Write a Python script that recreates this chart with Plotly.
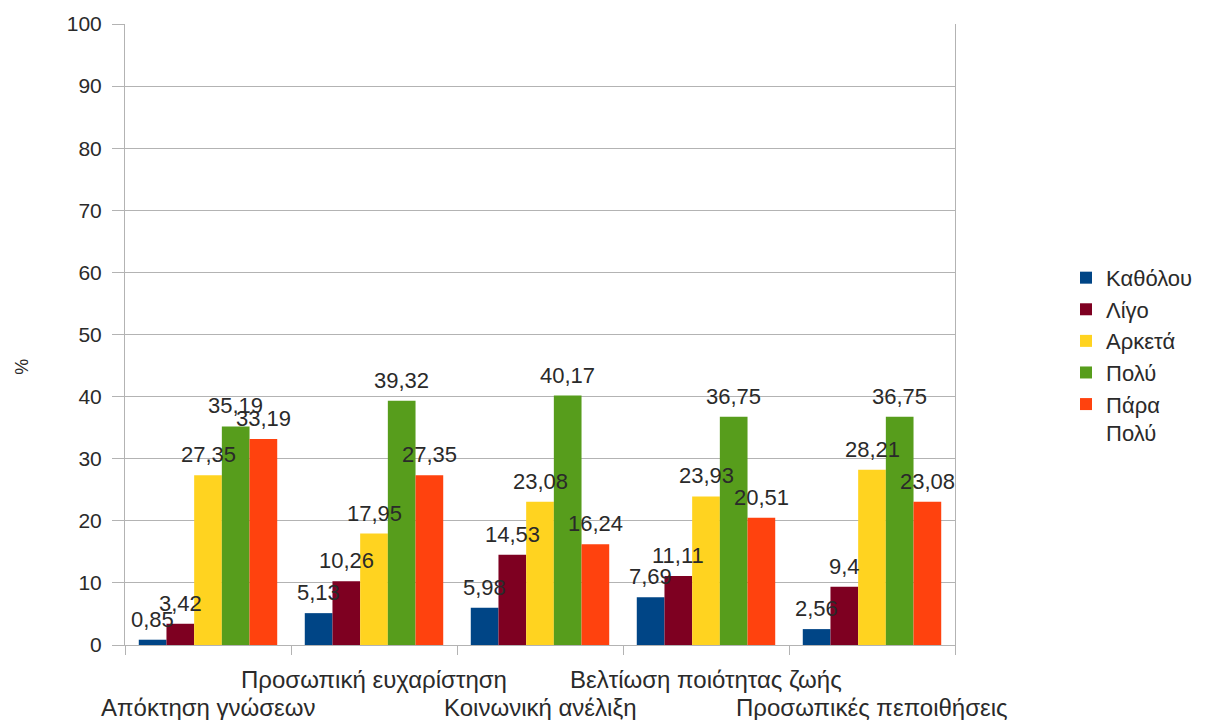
import plotly.graph_objects as go

# Survey categories and response shares (%)
categories = [
    "Απόκτηση γνώσεων",
    "Προσωπική ευχαρίστηση",
    "Κοινωνική ανέλιξη",
    "Βελτίωση ποιότητας ζωής",
    "Προσωπικές πεποιθήσεις",
]
series_names = ["Καθόλου", "Λίγο", "Αρκετά", "Πολύ", "Πάρα<br>Πολύ"]
katholou = [0.85, 5.13, 5.98, 7.69, 2.56]
ligo = [3.42, 10.26, 14.53, 11.11, 9.4]
arketa = [27.35, 17.95, 23.08, 23.93, 28.21]
poly = [35.19, 39.32, 40.17, 36.75, 36.75]
para_poly = [33.19, 27.35, 16.24, 20.51, 23.08]
y_ticks = list(range(0, 101, 10))

series_values = [katholou, ligo, arketa, poly, para_poly]
colors = ["#004586", "#7E0021", "#FFD320", "#579D1C", "#FF420E"]

FONT = "Liberation Sans, Arial, sans-serif"
TXT = "#2a2a2a"
GRID = "#b3b3b3"
BARGAP = 0.166

x_pos = list(range(len(categories)))
n = len(series_values)
bw = (1 - BARGAP) / n

fig = go.Figure()
annotations = []
for j, (name, vals, col) in enumerate(zip(series_names, series_values, colors)):
    fig.add_trace(go.Bar(
        x=x_pos, y=vals, name=name, marker=dict(color=col, line=dict(width=0)),
    ))
    for i, v in enumerate(vals):
        xc = i - (1 - BARGAP) / 2 + (j + 0.5) * bw
        annotations.append(dict(
            x=xc, y=v, xref="x", yref="y", text=str(v).replace(".", ","),
            showarrow=False, yanchor="bottom", xanchor="center", yshift=6,
            font=dict(family=FONT, size=22, color=TXT),
        ))

# Staggered category labels below the axis
for i, cat in enumerate(categories):
    annotations.append(dict(
        x=i, y=0, xref="x", yref="paper", text=cat, showarrow=False,
        xanchor="center", yanchor="middle",
        yshift=-34 if i % 2 else -62,
        font=dict(family=FONT, size=24, color=TXT),
    ))

# Y axis title
annotations.append(dict(
    x=-0.124, y=0.448, xref="paper", yref="paper", text="%", textangle=-90,
    showarrow=False, xanchor="center", yanchor="middle",
    font=dict(family=FONT, size=18, color=TXT),
))

fig.update_layout(
    width=1207, height=720,
    margin=dict(l=125, r=252, t=24, b=75, autoexpand=False),
    paper_bgcolor="white", plot_bgcolor="white",
    barmode="group", bargap=BARGAP, bargroupgap=0,
    font=dict(family=FONT, size=21, color=TXT),
    showlegend=True,
    legend=dict(
        xref="container", yref="paper",
        x=0.8832, y=0.625, xanchor="left", yanchor="top",
        font=dict(family=FONT, size=22, color=TXT),
        valign="top", bgcolor="rgba(0,0,0,0)", tracegroupgap=0,
    ),
    annotations=annotations,
)

fig.update_xaxes(
    range=[-0.5, len(categories) - 0.5],
    tickvals=[k - 0.5 for k in range(len(categories) + 1)],
    showticklabels=False, ticks="outside", ticklen=9, tickcolor=GRID,
    showline=True, linecolor=GRID, linewidth=1, showgrid=False, zeroline=False,
)
fig.update_yaxes(
    range=[0, 100], tickvals=y_ticks, ticks="outside", ticklen=12, tickcolor=GRID,
    showline=True, mirror=True, linecolor=GRID, linewidth=1,
    showgrid=True, gridcolor=GRID, gridwidth=1, zeroline=False,
    tickfont=dict(family=FONT, size=21, color=TXT), ticklabelstandoff=6,
)

fig.write_html("out.html")
